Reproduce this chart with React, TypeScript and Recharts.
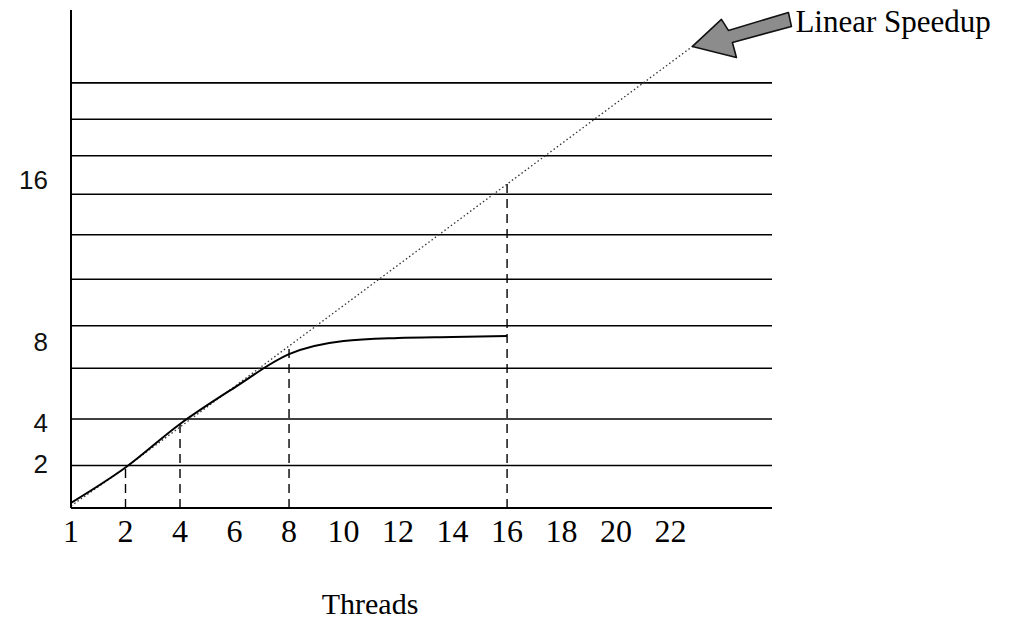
import { LineChart, Line, XAxis, YAxis, CartesianGrid, ReferenceLine, ReferenceDot } from 'recharts'

// values
const threadTicks = [1, 2, 4, 6, 8, 10, 12, 14, 16, 18, 20, 22]
const measuredThreads = [1, 2, 4, 6, 8, 10, 12, 14, 16]
const measuredSpeedup = [0.25, 2.0, 4.15, 5.95, 7.6, 8.25, 8.4, 8.45, 8.5]
const linearThreads = [1, 2, 4, 6, 8, 10, 12, 14, 16, 18, 20, 22, 22.8]
const linearSpeedup = [0.1, 2, 4, 6, 8, 10, 12, 14, 16, 18, 20, 22, 22.8]
const speedupTicks = [2, 4, 8, 16]
const ruledLines = [2.1, 4.4, 6.9, 9.0, 11.3, 13.5, 15.5, 17.4, 19.2, 21.0]
const dropThreads = [2, 4, 8, 16]

// hand-drawn axis: 1 sits at the origin, then one slot per 2 threads
const slot = (t: number) => (t < 2 ? t - 1 : t / 2)

const measuredData = measuredThreads.map((t, i) => ({ pos: slot(t), speedup: measuredSpeedup[i] }))
const linearData = linearThreads.map((t, i) => ({ pos: slot(t), speedup: linearSpeedup[i] }))

const dropTop = (t: number) => {
  const m = measuredThreads.indexOf(t)
  const l = linearThreads.indexOf(t)
  return Math.max(m >= 0 ? measuredSpeedup[m] : 0, l >= 0 ? linearSpeedup[l] : 0)
}

const serif = '"Liberation Serif", "Times New Roman", serif'

const XTick = ({ x, y, payload }: any) => {
  const i = threadTicks.map(slot).indexOf(payload.value)
  return (
    <text x={x} y={y + 34} textAnchor="middle" fontFamily={serif} fontSize={32} fill="#000">
      {threadTicks[i]}
    </text>
  )
}

const YTick = ({ x, y, payload }: any) => (
  <text x={x - 23} y={y} dy={5} textAnchor="end" fontFamily='"Liberation Sans", sans-serif' fontSize={26} fill="#111">
    {payload.value}
  </text>
)

const Pointer = (p: any) => {
  const { cx, cy } = p
  const pts = [[0, 0], [44, 11], [40, -4], [99, -20], [96, -34], [36, -16], [29, -27]]
    .map(([dx, dy]) => `${cx + dx},${cy + dy}`)
    .join(' ')
  return (
    <g>
      <polygon points={pts} fill="#8c8c8c" stroke="#111" strokeWidth={1.6} strokeLinejoin="round" />
      <text x={cx + 103} y={cy - 14} fontFamily={serif} fontSize={31} fill="#000">
        Linear Speedup
      </text>
    </g>
  )
}

export default function App() {
  return (
    <div style={{ position: 'absolute', left: 0, top: 0, background: '#fff' }}>
      <LineChart width={1010} height={621} margin={{ top: 10, right: 238, left: 0, bottom: 0 }}>
        <CartesianGrid vertical={false} horizontalValues={ruledLines} stroke="#000" strokeWidth={1.6} />
        <XAxis
          type="number"
          dataKey="pos"
          domain={[0, 12.86]}
          ticks={threadTicks.map(slot)}
          interval={0}
          height={113}
          tickLine={false}
          tickSize={0}
          tickMargin={0}
          tick={<XTick />}
          axisLine={{ stroke: '#000', strokeWidth: 2 }}
          allowDataOverflow
        />
        <YAxis
          type="number"
          domain={[0, 24.6]}
          ticks={speedupTicks}
          interval={0}
          width={71}
          tickLine={false}
          tickSize={0}
          tickMargin={0}
          tick={<YTick />}
          axisLine={{ stroke: '#000', strokeWidth: 2 }}
          allowDataOverflow
        />
        {dropThreads.map((t) => (
          <ReferenceLine
            key={t}
            segment={[{ x: slot(t), y: 0 }, { x: slot(t), y: dropTop(t) }]}
            stroke="#000"
            strokeWidth={1.4}
            strokeDasharray="9 6"
          />
        ))}
        <Line
          data={linearData}
          dataKey="speedup"
          type="linear"
          stroke="#333"
          strokeWidth={1.3}
          strokeDasharray="1.5 2.5"
          dot={false}
          isAnimationActive={false}
        />
        <Line
          data={measuredData}
          dataKey="speedup"
          type="monotone"
          stroke="#000"
          strokeWidth={2}
          dot={false}
          isAnimationActive={false}
        />
        <ReferenceDot
          x={slot(linearThreads[linearThreads.length - 1])}
          y={linearSpeedup[linearSpeedup.length - 1]}
          r={0}
          shape={<Pointer />}
        />
        <text x={370} y={614} textAnchor="middle" fontFamily={serif} fontSize={30} fill="#000">
          Threads
        </text>
      </LineChart>
    </div>
  )
}
